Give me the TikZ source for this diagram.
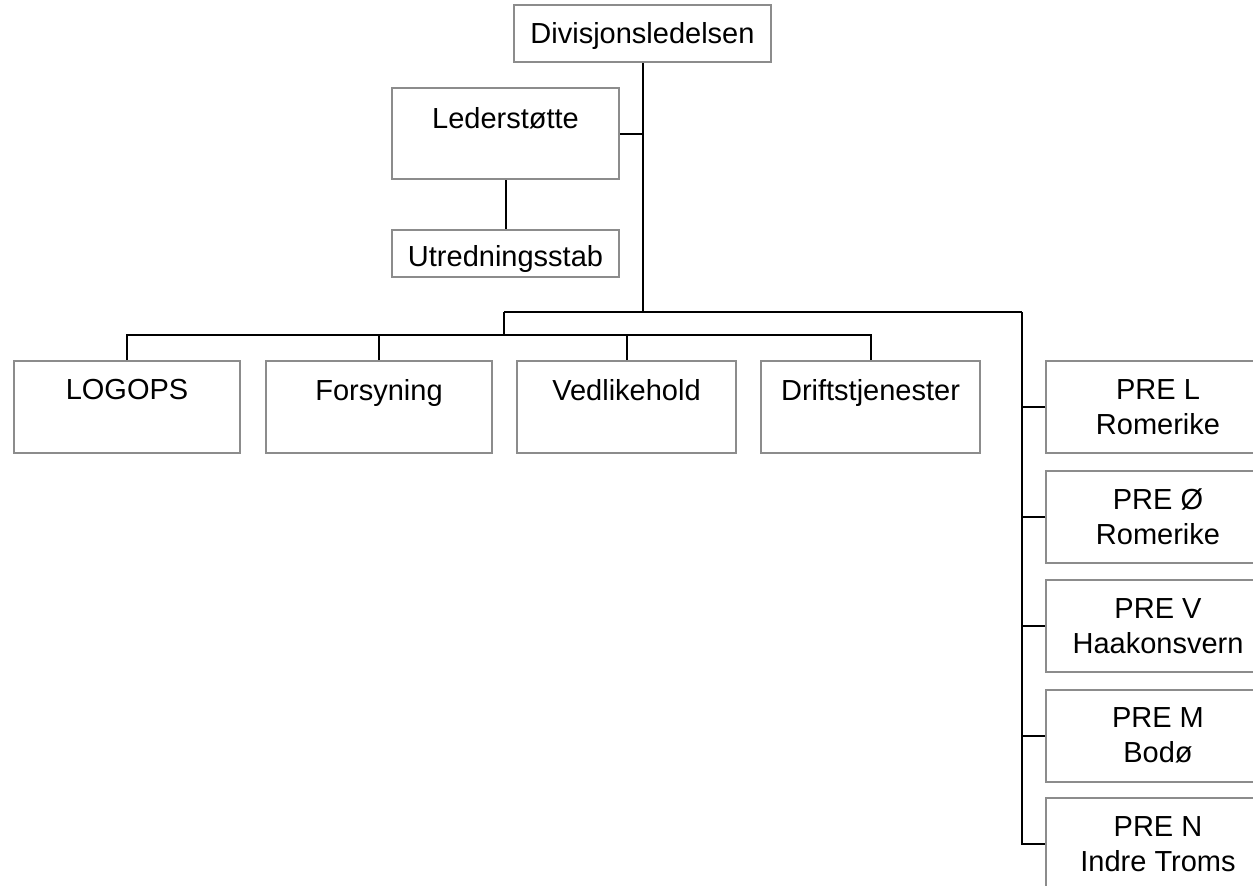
\documentclass[tikz,border=0pt]{standalone}
\usepackage{fontspec}
\setmainfont{Liberation Sans}
\begin{document}
\begin{tikzpicture}[x=1pt,y=-1pt,
  box/.style={draw=black!45,line width=2pt,fill=white,rectangle,inner sep=0pt,
    align=center,font=\fontsize{29}{35}\selectfont},
  conn/.style={draw=black,line width=2pt}]
\clip (0,0) rectangle (1253,886);
\useasboundingbox (0,0) rectangle (1253,886);
% nodes
\node[box,minimum width=257pt,minimum height=57pt] (div) at (642.5,33.5) {\raisebox{-3pt}[\height][\depth]{Divisjonsledelsen}};
\node[box,minimum width=227pt,minimum height=91pt] (led) at (505.5,133.5) {\raisebox{-2pt}[\height][\depth]{Lederstøtte}\\\mbox{}};
\node[box,minimum width=227pt,minimum height=47pt] (utr) at (505.5,253.5) {\raisebox{-5pt}[\height][\depth]{Utredningsstab}};
\node[box,minimum width=226pt,minimum height=92pt] (logops) at (127,407) {LOGOPS\\\mbox{}};
\node[box,minimum width=226pt,minimum height=92pt] (fors) at (379,407) {Forsyning\\\mbox{}};
\node[box,minimum width=219pt,minimum height=92pt] (vedl) at (626.5,407) {Vedlikehold\\\mbox{}};
\node[box,minimum width=219pt,minimum height=92pt] (drift) at (870.5,407) {Driftstjenester\\\mbox{}};
\node[box,minimum width=224pt,minimum height=92pt] (prel) at (1158,407) {PRE L\\Romerike};
\node[box,minimum width=224pt,minimum height=92pt] (preo) at (1158,516.5) {PRE Ø\\Romerike};
\node[box,minimum width=224pt,minimum height=92pt] (prev) at (1158,626) {PRE V\\Haakonsvern};
\node[box,minimum width=224pt,minimum height=92pt] (prem) at (1158,735.5) {PRE M\\Bodø};
\node[box,minimum width=224pt,minimum height=92pt] (pren) at (1158,844) {PRE N\\Indre Troms};
% junctions
\coordinate (j1) at (642.5,312);
\coordinate (j2) at (504,312);
\coordinate (j3) at (1022,312);
\coordinate (bus) at (504,335);
% connectors
\draw[conn] (div.south) -- (j1);
\draw[conn] (led.east) -- (led.east -| j1);
\draw[conn] (led.south) -- (utr.north);
\draw[conn] (j2) -- (j3);
\draw[conn] (j2) -- (bus);
\draw[conn] (logops.north) |- (bus) -| (drift.north);
\draw[conn] (fors.north) -- (fors.north |- bus);
\draw[conn] (vedl.north) -- (vedl.north |- bus);
\draw[conn] (j3) |- (pren.west);
\draw[conn] (prel.west) -- (prel.west -| j3);
\draw[conn] (preo.west) -- (preo.west -| j3);
\draw[conn] (prev.west) -- (prev.west -| j3);
\draw[conn] (prem.west) -- (prem.west -| j3);
\end{tikzpicture}
\end{document}
